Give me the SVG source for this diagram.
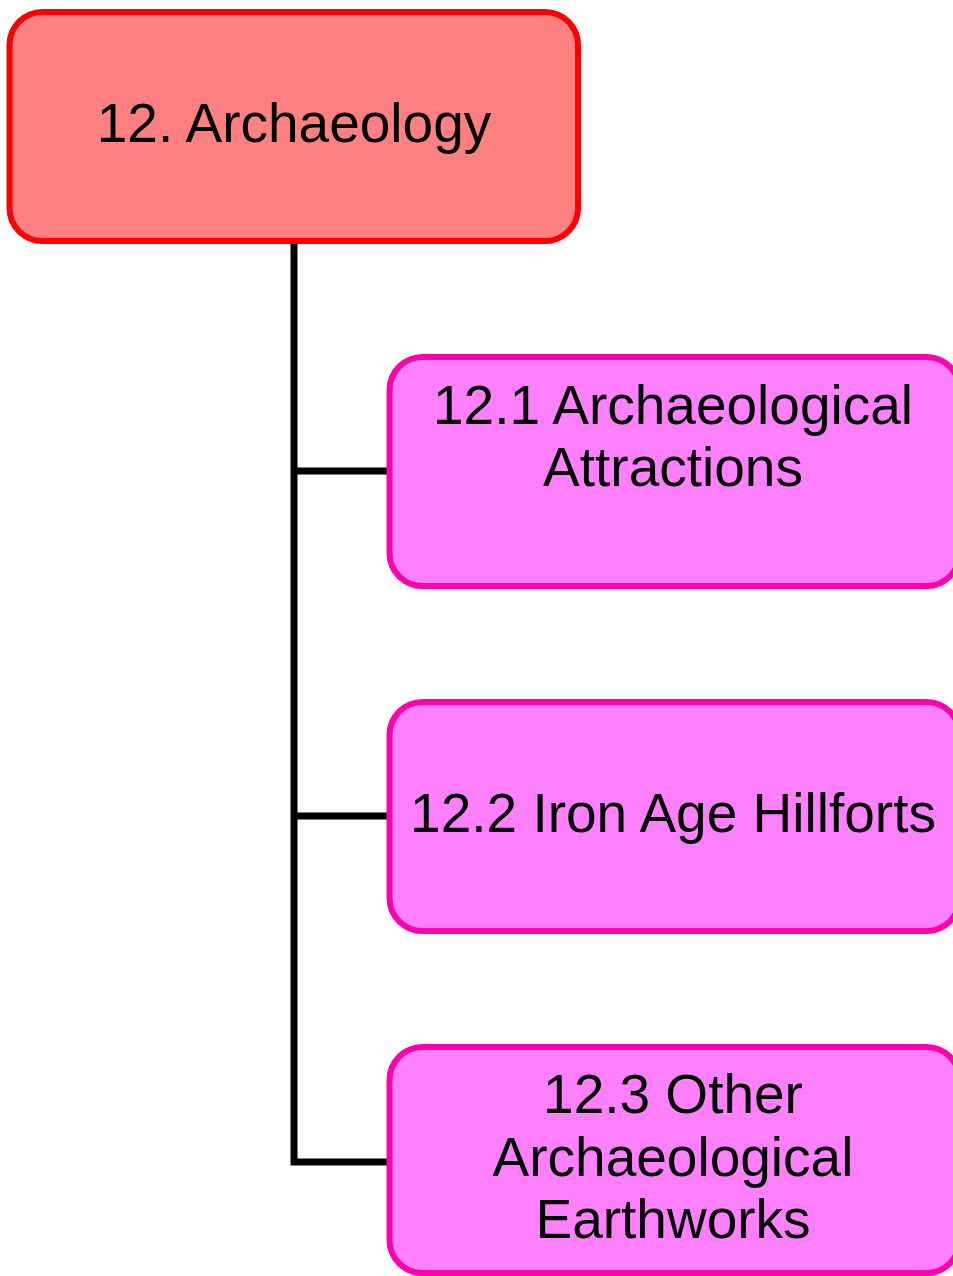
<svg xmlns="http://www.w3.org/2000/svg" width="953" height="1276" viewBox="0 0 953 1276">
<style>
.root{fill:#FF8080;stroke:#FF0000;stroke-width:6}
.child{fill:#FF80FF;stroke:#FF00AA;stroke-width:6}
.t{font-family:"Liberation Sans",Arial,sans-serif;font-size:55px;fill:#000;text-anchor:middle}
.c{fill:none;stroke:#000;stroke-width:7}
</style>
<rect width="953" height="1276" fill="#fff"/>
<g id="connectors">
<polyline class="c" points="294,242 294,1162 389,1162"/>
<line class="c" x1="294" y1="471" x2="389" y2="471"/>
<line class="c" x1="294" y1="816" x2="389" y2="816"/>
</g>
<g id="node-12">
<rect class="root" x="9.5" y="12" width="568.5" height="229" rx="33"/>
<text class="t" x="294" y="142">12. Archaeology</text>
</g>
<g id="node-12-1">
<rect class="child" x="389.5" y="357" width="570" height="229" rx="33"/>
<text class="t" x="673" y="424">12.1 Archaeological</text>
<text class="t" x="673" y="486">Attractions</text>
</g>
<g id="node-12-2">
<rect class="child" x="389.5" y="702" width="570" height="229" rx="33"/>
<text class="t" x="673" y="832">12.2 Iron Age Hillforts</text>
</g>
<g id="node-12-3">
<rect class="child" x="389.5" y="1047" width="570" height="226" rx="33"/>
<text class="t" x="673" y="1113">12.3 Other</text>
<text class="t" x="673" y="1176">Archaeological</text>
<text class="t" x="673" y="1238">Earthworks</text>
</g>
</svg>
